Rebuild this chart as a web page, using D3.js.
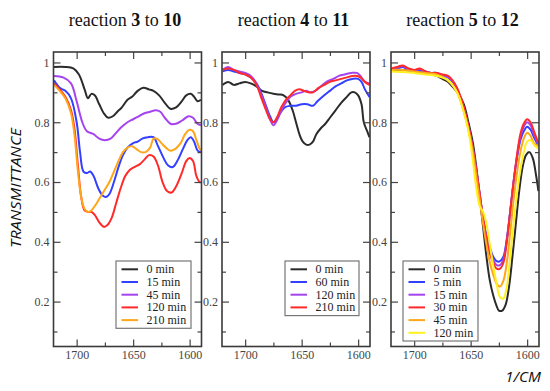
<!DOCTYPE html>
<html><head><meta charset="utf-8">
<script src="https://cdn.jsdelivr.net/npm/d3@7"></script>
<style>
body{margin:0;background:#fff;}
svg{display:block;}
</style></head>
<body><svg id="c" width="550" height="391"></svg>
<script>
// ---- data ----
const panelTitles = [["reaction ","3"," to ","10"],["reaction ","4"," to ","11"],["reaction ","5"," to ","12"]];
const xTicksMajor = [1700,1650,1600];
const xTicksMinor = [1675,1625];
const yTicksMajor = [0.2,0.4,0.6,0.8,1.0];
const yTicksMinor = [0.1,0.3,0.5,0.7,0.9];

const colors = {black:"#2b2b2b", blue:"#3340ff", purple:"#a544ee", red:"#ff2a2a", orange:"#ffa61a", yellow:"#fff020"};

// panel 1 : reaction 3 to 10
const p1_0min = [[1720,0.985],[1710,0.985],[1703,0.98],[1698,0.96],[1693,0.91],[1690,0.88],[1687,0.895],[1684,0.89],[1680,0.86],[1676,0.83],[1672,0.815],[1668,0.82],[1664,0.835],[1660,0.85],[1655,0.875],[1651,0.885],[1646,0.905],[1641,0.915],[1636,0.91],[1632,0.905],[1627,0.89],[1622,0.865],[1617,0.845],[1612,0.85],[1607,0.87],[1603,0.89],[1599,0.895],[1596,0.885],[1593,0.87],[1590,0.875]];
const p1_15min = [[1720,0.94],[1715,0.915],[1710,0.905],[1705,0.88],[1700,0.8],[1697,0.7],[1694,0.635],[1691,0.63],[1688,0.635],[1685,0.62],[1681,0.58],[1677,0.555],[1674,0.55],[1671,0.56],[1667,0.6],[1663,0.65],[1659,0.69],[1655,0.715],[1650,0.73],[1646,0.735],[1642,0.745],[1637,0.75],[1632,0.75],[1628,0.72],[1623,0.68],[1619,0.655],[1615,0.65],[1611,0.67],[1606,0.71],[1602,0.74],[1599,0.75],[1596,0.735],[1593,0.705],[1590,0.7]];
const p1_45min = [[1720,0.955],[1712,0.95],[1705,0.93],[1700,0.87],[1695,0.8],[1691,0.77],[1685,0.76],[1680,0.745],[1675,0.74],[1670,0.745],[1665,0.765],[1660,0.785],[1655,0.8],[1650,0.81],[1645,0.82],[1640,0.83],[1635,0.835],[1630,0.84],[1626,0.835],[1622,0.815],[1617,0.795],[1612,0.795],[1607,0.805],[1601,0.82],[1597,0.815],[1593,0.795],[1590,0.79]];
const p1_120min = [[1720,0.93],[1715,0.91],[1710,0.885],[1705,0.84],[1702,0.78],[1699,0.66],[1696,0.55],[1693,0.505],[1690,0.5],[1687,0.5],[1684,0.49],[1680,0.465],[1676,0.45],[1673,0.455],[1669,0.48],[1665,0.53],[1661,0.58],[1657,0.62],[1653,0.64],[1649,0.65],[1644,0.66],[1640,0.675],[1636,0.69],[1632,0.685],[1628,0.655],[1624,0.6],[1620,0.57],[1616,0.565],[1612,0.585],[1607,0.63],[1603,0.67],[1600,0.68],[1597,0.67],[1594,0.62],[1591,0.6],[1590,0.6]];
const p1_210min = [[1720,0.925],[1715,0.905],[1710,0.88],[1705,0.83],[1702,0.76],[1699,0.64],[1696,0.55],[1693,0.51],[1690,0.5],[1687,0.505],[1683,0.525],[1679,0.55],[1675,0.575],[1671,0.6],[1667,0.635],[1663,0.67],[1659,0.7],[1655,0.715],[1651,0.72],[1647,0.71],[1643,0.7],[1639,0.7],[1635,0.715],[1632,0.745],[1629,0.745],[1625,0.73],[1621,0.715],[1617,0.705],[1613,0.71],[1608,0.73],[1604,0.76],[1600,0.775],[1597,0.77],[1594,0.74],[1591,0.71],[1590,0.705]];

// panel 2 : reaction 4 to 11
const p2_0min = [[1720,0.925],[1715,0.935],[1710,0.925],[1705,0.93],[1700,0.935],[1695,0.93],[1690,0.92],[1685,0.905],[1680,0.9],[1675,0.895],[1670,0.893],[1666,0.89],[1662,0.875],[1658,0.84],[1655,0.8],[1652,0.76],[1649,0.735],[1646,0.725],[1643,0.725],[1640,0.735],[1637,0.76],[1633,0.78],[1629,0.795],[1625,0.815],[1620,0.84],[1615,0.865],[1610,0.885],[1606,0.9],[1603,0.9],[1600,0.89],[1597,0.86],[1595,0.8],[1592,0.77],[1590,0.75]];
const p2_60min = [[1720,0.97],[1715,0.975],[1710,0.97],[1705,0.965],[1700,0.96],[1695,0.95],[1690,0.93],[1686,0.9],[1682,0.86],[1678,0.82],[1675,0.8],[1672,0.81],[1669,0.83],[1665,0.85],[1660,0.855],[1655,0.855],[1650,0.86],[1645,0.86],[1640,0.855],[1636,0.87],[1630,0.89],[1625,0.905],[1620,0.92],[1615,0.93],[1610,0.94],[1605,0.945],[1600,0.945],[1597,0.935],[1594,0.91],[1590,0.885]];
const p2_120min = [[1720,0.975],[1715,0.985],[1710,0.975],[1705,0.97],[1700,0.965],[1695,0.955],[1690,0.93],[1686,0.895],[1682,0.855],[1678,0.81],[1675,0.79],[1672,0.805],[1668,0.84],[1664,0.865],[1660,0.885],[1655,0.895],[1650,0.9],[1646,0.905],[1642,0.9],[1638,0.905],[1633,0.92],[1628,0.935],[1622,0.945],[1617,0.955],[1612,0.96],[1606,0.965],[1601,0.965],[1598,0.955],[1594,0.935],[1590,0.93]];
const p2_210min = [[1720,0.975],[1715,0.98],[1710,0.975],[1705,0.965],[1700,0.96],[1695,0.95],[1690,0.925],[1686,0.885],[1682,0.845],[1678,0.81],[1675,0.8],[1672,0.815],[1668,0.85],[1664,0.875],[1660,0.89],[1656,0.905],[1652,0.91],[1648,0.905],[1644,0.9],[1640,0.9],[1635,0.915],[1630,0.925],[1625,0.935],[1620,0.94],[1615,0.945],[1610,0.95],[1605,0.955],[1601,0.955],[1598,0.95],[1594,0.935],[1590,0.925]];

// panel 3 : reaction 5 to 12
const p3_0min = [[1720,0.975],[1710,0.975],[1700,0.97],[1690,0.965],[1680,0.955],[1675,0.945],[1670,0.935],[1665,0.915],[1660,0.89],[1656,0.86],[1652,0.8],[1648,0.73],[1645,0.65],[1642,0.55],[1639,0.45],[1636,0.35],[1633,0.27],[1630,0.22],[1627,0.185],[1625,0.17],[1622,0.17],[1619,0.19],[1616,0.25],[1613,0.35],[1610,0.46],[1607,0.57],[1604,0.65],[1601,0.69],[1598,0.7],[1595,0.68],[1592,0.62],[1590,0.57]];
const p3_5min = [[1720,0.975],[1715,0.98],[1710,0.985],[1705,0.975],[1700,0.97],[1695,0.975],[1690,0.97],[1685,0.965],[1680,0.965],[1675,0.955],[1670,0.95],[1666,0.935],[1662,0.91],[1658,0.87],[1655,0.83],[1651,0.77],[1648,0.71],[1645,0.64],[1642,0.56],[1639,0.48],[1636,0.42],[1633,0.38],[1630,0.35],[1627,0.335],[1624,0.335],[1621,0.35],[1618,0.41],[1615,0.5],[1612,0.6],[1609,0.68],[1606,0.74],[1603,0.77],[1600,0.785],[1597,0.775],[1594,0.75],[1590,0.72]];
const p3_15min = [[1720,0.978],[1715,0.983],[1710,0.988],[1705,0.978],[1700,0.972],[1695,0.978],[1690,0.968],[1685,0.963],[1680,0.963],[1675,0.957],[1670,0.952],[1666,0.937],[1662,0.912],[1658,0.872],[1655,0.832],[1651,0.77],[1648,0.71],[1645,0.64],[1642,0.56],[1639,0.48],[1636,0.415],[1633,0.37],[1630,0.34],[1627,0.322],[1624,0.322],[1621,0.34],[1618,0.405],[1615,0.5],[1612,0.6],[1609,0.685],[1606,0.75],[1603,0.785],[1600,0.8],[1597,0.79],[1594,0.76],[1590,0.725]];
const p3_30min = [[1720,0.98],[1715,0.985],[1710,0.99],[1705,0.98],[1700,0.975],[1695,0.98],[1690,0.97],[1685,0.965],[1680,0.965],[1675,0.96],[1670,0.955],[1666,0.94],[1662,0.915],[1658,0.875],[1655,0.835],[1651,0.77],[1648,0.71],[1645,0.64],[1642,0.56],[1639,0.48],[1636,0.41],[1633,0.36],[1630,0.33],[1627,0.31],[1624,0.31],[1621,0.33],[1618,0.4],[1615,0.5],[1612,0.6],[1609,0.69],[1606,0.76],[1603,0.795],[1600,0.81],[1597,0.8],[1594,0.77],[1590,0.73]];
const p3_45min = [[1720,0.975],[1710,0.975],[1700,0.97],[1690,0.965],[1680,0.96],[1670,0.94],[1662,0.9],[1655,0.82],[1651,0.76],[1648,0.7],[1645,0.62],[1642,0.54],[1639,0.46],[1636,0.39],[1633,0.33],[1630,0.29],[1627,0.26],[1624,0.25],[1621,0.27],[1618,0.33],[1615,0.43],[1612,0.54],[1609,0.63],[1606,0.7],[1603,0.745],[1600,0.765],[1597,0.755],[1594,0.73],[1590,0.72]];
const p3_120min = [[1720,0.97],[1710,0.968],[1700,0.965],[1690,0.96],[1680,0.955],[1670,0.94],[1662,0.9],[1655,0.82],[1651,0.75],[1648,0.67],[1645,0.58],[1642,0.52],[1639,0.5],[1636,0.46],[1633,0.39],[1630,0.32],[1627,0.26],[1624,0.215],[1621,0.21],[1618,0.25],[1615,0.35],[1612,0.46],[1609,0.56],[1606,0.64],[1603,0.7],[1600,0.735],[1597,0.74],[1594,0.725],[1590,0.71]];

const panelSeries = [
  [{name:"0 min",color:"black",data:p1_0min},{name:"15 min",color:"blue",data:p1_15min},{name:"45 min",color:"purple",data:p1_45min},{name:"120 min",color:"red",data:p1_120min},{name:"210 min",color:"orange",data:p1_210min}],
  [{name:"0 min",color:"black",data:p2_0min},{name:"60 min",color:"blue",data:p2_60min},{name:"120 min",color:"purple",data:p2_120min},{name:"210 min",color:"red",data:p2_210min}],
  [{name:"0 min",color:"black",data:p3_0min},{name:"5 min",color:"blue",data:p3_5min},{name:"15 min",color:"purple",data:p3_15min},{name:"30 min",color:"red",data:p3_30min},{name:"45 min",color:"orange",data:p3_45min},{name:"120 min",color:"yellow",data:p3_120min}]
];

// ---- layout ----
const svg = d3.select("#c");
const panelX = [[53.5,201.5],[222,370],[391,539]];
const plotTop = 52, plotBottom = 346.5;
const legendPos = [[116,261,75],[285,261,74],[403,261,75]];
const serif = "'Liberation Serif','Times New Roman',serif";
const sans = "'Open Sans','DejaVu Sans',sans-serif";

const y = d3.scaleLinear().domain([0.0497,1.035]).range([plotBottom,plotTop]);
const fmt = d => d === 1 ? "1" : d3.format(".1f")(d);

panelX.forEach((px,i) => {
  const x = d3.scaleLinear().domain([1720.5,1589.5]).range(px);
  const g = svg.append("g");
  const clipId = "clip"+i;
  svg.append("clipPath").attr("id",clipId).append("rect")
    .attr("x",px[0]).attr("y",plotTop).attr("width",px[1]-px[0]).attr("height",plotBottom-plotTop);

  // title
  const t = svg.append("text").attr("x",(px[0]+px[1])/2 - 2.5).attr("y",26)
    .attr("text-anchor","middle").attr("font-family",serif).attr("font-size",18).attr("fill","#111");
  panelTitles[i].forEach((s,k) => t.append("tspan").text(s).attr("font-weight",k%2===1?"bold":"normal"));

  // lines
  const line = d3.line().x(d=>x(d[0])).y(d=>y(d[1])).curve(d3.curveCatmullRom.alpha(0.5));
  const lg = g.append("g").attr("clip-path",`url(#${clipId})`);
  panelSeries[i].forEach(s => {
    lg.append("path").attr("d",line(s.data)).attr("fill","none")
      .attr("stroke",colors[s.color]).attr("stroke-width",2).attr("stroke-linejoin","round");
  });

  // axes
  const axStyle = sel => {
    sel.select(".domain").remove();
    sel.selectAll(".tick line").attr("stroke","#444").attr("stroke-width",1.2);
    sel.selectAll("text").attr("font-family",serif).attr("font-size",12).attr("fill","#444");
  };
  g.append("g").attr("transform",`translate(${px[0]},0)`).call(d3.axisLeft(y).tickValues(yTicksMajor).tickSize(-7).tickPadding(4).tickFormat(fmt)).call(axStyle);
  g.append("g").attr("transform",`translate(${px[0]},0)`).call(d3.axisLeft(y).tickValues(yTicksMinor).tickSize(-4).tickFormat("")).call(axStyle);
  g.append("g").attr("transform",`translate(${px[1]},0)`).call(d3.axisRight(y).tickValues(yTicksMajor).tickSize(-7).tickFormat("")).call(axStyle);
  g.append("g").attr("transform",`translate(${px[1]},0)`).call(d3.axisRight(y).tickValues(yTicksMinor).tickSize(-4).tickFormat("")).call(axStyle);
  g.append("g").attr("transform",`translate(0,${plotBottom})`).call(d3.axisBottom(x).tickValues(xTicksMajor).tickSize(-7).tickPadding(4).tickFormat(d3.format("d"))).call(axStyle);
  g.append("g").attr("transform",`translate(0,${plotBottom})`).call(d3.axisBottom(x).tickValues(xTicksMinor).tickSize(-4).tickFormat("")).call(axStyle);
  g.append("g").attr("transform",`translate(0,${plotTop})`).call(d3.axisTop(x).tickValues(xTicksMajor).tickSize(-7).tickFormat("")).call(axStyle);
  g.append("g").attr("transform",`translate(0,${plotTop})`).call(d3.axisTop(x).tickValues(xTicksMinor).tickSize(-4).tickFormat("")).call(axStyle);

  // frame
  g.append("rect").attr("x",px[0]).attr("y",plotTop).attr("width",px[1]-px[0]).attr("height",plotBottom-plotTop)
    .attr("fill","none").attr("stroke","#3a3a3a").attr("stroke-width",1.6);

  // legend
  const [lx,ly,lw] = legendPos[i];
  const n = panelSeries[i].length;
  const rowH = 12.7;
  const leg = g.append("g");
  leg.append("rect").attr("x",lx).attr("y",ly).attr("width",lw).attr("height",(n-1)*rowH+16.5)
    .attr("fill","#fff").attr("stroke","#777").attr("stroke-width",1.2);
  panelSeries[i].forEach((s,k) => {
    const yy = ly + 8.3 + k*rowH;
    leg.append("line").attr("x1",lx+5.5).attr("x2",lx+22).attr("y1",yy).attr("y2",yy)
      .attr("stroke",colors[s.color]).attr("stroke-width",2);
    leg.append("text").attr("x",lx+30.5).attr("y",yy+4).text(s.name)
      .attr("font-family",serif).attr("font-size",12).attr("fill","#222");
  });
});

// axis titles
svg.append("text").attr("transform","translate(20.5,188) rotate(-90)").attr("text-anchor","middle")
  .attr("font-family",sans).attr("font-style","italic").attr("font-size",14)
  .attr("textLength",120).attr("lengthAdjust","spacingAndGlyphs")
  .attr("fill","#111").text("TRANSMITTANCE");
svg.append("text").attr("x",505).attr("y",382)
  .attr("font-family",sans).attr("font-style","italic").attr("font-size",15)
  .attr("textLength",36).attr("lengthAdjust","spacingAndGlyphs")
  .attr("fill","#111").text("1/CM");
</script></body></html>
